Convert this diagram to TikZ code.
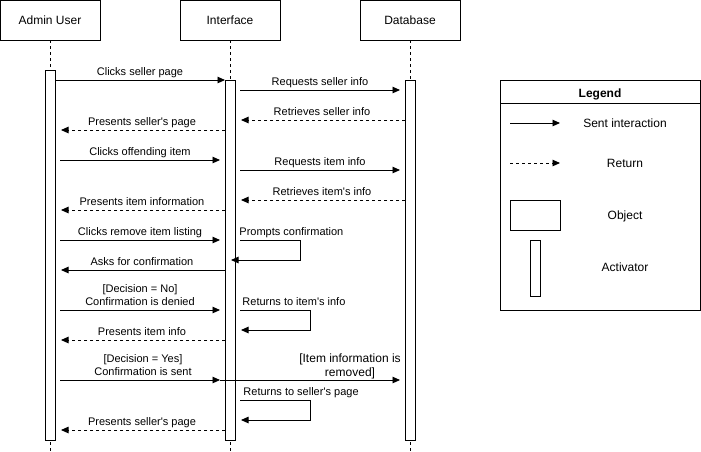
\documentclass[tikz,border=0pt]{standalone}
\usepackage{fontspec}
\setmainfont{Liberation Sans}
\usetikzlibrary{arrows.meta}
\newcommand\qs{\textquotesingle}
\tikzset{
  obj/.style={draw, minimum width=100pt, minimum height=40pt, inner sep=0pt},
  objt/.style={font=\fontsize{12}{14}\selectfont, inner sep=0pt, anchor=base},
  act/.style={draw, fill=white, minimum width=10pt, inner sep=0pt},
  life/.style={dash pattern=on 3pt off 3pt},
  msg/.style={line width=0.9pt, -{Triangle[length=7.5pt,width=6.5pt]}},
  ret/.style={msg, dash pattern=on 3pt off 3pt},
  lbl/.style={font=\fontsize{11}{13}\selectfont, inner sep=0pt, align=center, anchor=base},
  lblL/.style={lbl, anchor=base west},
  big/.style={font=\fontsize{12}{14}\selectfont, inner sep=0pt, align=center, anchor=base},
}
\begin{document}
\begin{tikzpicture}[x=1pt,y=-1pt, line width=0.9pt]
\useasboundingbox (0,0) rectangle (701,451);
% objects
\node[obj] (admin) at (50,20) {};
\node[obj] (iface) at (230,20) {};
\node[obj] (db) at (410,20) {};
\node[objt] (adminT) at (50,24.3) {Admin User};
\node[objt] (ifaceT) at (230,24.3) {Interface};
\node[objt] (dbT) at (410,24.3) {Database};
% lifelines
\coordinate (aEnd) at (50,451);
\coordinate (iEnd) at (230,451);
\coordinate (dEnd) at (410,451);
\draw[life] (admin.south) -- (aEnd);
\draw[life] (iface.south) -- (iEnd);
\draw[life] (db.south) -- (dEnd);
% activators
\node[act, minimum height=370pt] (actA) at (50,255) {};
\node[act, minimum height=360pt] (actI) at (230,260) {};
\node[act, minimum height=360pt] (actD) at (410,260) {};

% endpoints
\coordinate (m1s) at (55,80);   \coordinate (m1e) at (225,80);
\coordinate (m2s) at (240,90);  \coordinate (m2e) at (400,90);
\coordinate (m3s) at (405,120); \coordinate (m3e) at (241,120);
\coordinate (m4s) at (225,130); \coordinate (m4e) at (61,130);
\coordinate (m5s) at (60,160);  \coordinate (m5e) at (220,160);
\coordinate (m6s) at (240,170); \coordinate (m6e) at (400,170);
\coordinate (m7s) at (405,200); \coordinate (m7e) at (241,200);
\coordinate (m8s) at (225,210); \coordinate (m8e) at (61,210);
\coordinate (m9s) at (60,240);  \coordinate (m9e) at (220,240);
\coordinate (p1s) at (240,240); \coordinate (p1a) at (300,240);
\coordinate (p1b) at (300,260); \coordinate (p1e) at (231,260);
\coordinate (m10s) at (225,270); \coordinate (m10e) at (61,270);
\coordinate (m11s) at (60,310); \coordinate (m11e) at (220,310);
\coordinate (p2s) at (240,310); \coordinate (p2a) at (310,310);
\coordinate (p2b) at (310,330); \coordinate (p2e) at (241,330);
\coordinate (m12s) at (225,340); \coordinate (m12e) at (61,340);
\coordinate (m13s) at (60,380); \coordinate (m13e) at (220,380);
\coordinate (m14s) at (220,380); \coordinate (m14e) at (400,380);
\coordinate (p3s) at (240,400); \coordinate (p3a) at (310,400);
\coordinate (p3b) at (310,420); \coordinate (p3e) at (241,420);
\coordinate (m15s) at (225,430); \coordinate (m15e) at (61,430);

% messages
\draw[msg] (m1s) -- (m1e);
\node[lbl] (l1) at (140,75) {Clicks seller page};
\draw[msg] (m2s) -- (m2e);
\node[lbl] (l2) at (320,85) {Requests seller info};
\draw[ret] (m3s) -- (m3e);
\node[lbl] (l3) at (322,115) {Retrieves seller info};
\draw[ret] (m4s) -- (m4e);
\node[lbl] (l4) at (142,125) {Presents seller\qs s page};
\draw[msg] (m5s) -- (m5e);
\node[lbl] (l5) at (140,155) {Clicks offending item};
\draw[msg] (m6s) -- (m6e);
\node[lbl] (l6) at (320,165) {Requests item info};
\draw[ret] (m7s) -- (m7e);
\node[lbl] (l7) at (322,195) {Retrieves item\qs s info};
\draw[ret] (m8s) -- (m8e);
\node[lbl] (l8) at (142,205) {Presents item information};
\draw[msg] (m9s) -- (m9e);
\node[lbl] (l9) at (140,235) {Clicks remove item listing};
\draw[msg] (p1s) -- (p1a) -- (p1b) -- (p1e);
\node[lblL] (lp1) at (239,235) {Prompts confirmation};
\draw[msg] (m10s) -- (m10e);
\node[lbl] (l10) at (142,265) {Asks for confirmation};
\draw[msg] (m11s) -- (m11e);
\node[lbl] (l11a) at (140,292) {[Decision = No]};
\node[lbl] (l11) at (140,305) {Confirmation is denied};
\draw[msg] (p2s) -- (p2a) -- (p2b) -- (p2e);
\node[lblL] (lp2) at (242,305) {Returns to item\qs s info};
\draw[ret] (m12s) -- (m12e);
\node[lbl] (l12) at (142,335) {Presents item info};
\draw[msg] (m13s) -- (m13e);
\draw[msg] (m14s) -- (m14e);
\node[lbl] (l13a) at (143,362) {[Decision = Yes]};
\node[lbl] (l13) at (143,375) {Confirmation is sent};
\node[big] (l14a) at (350,362) {[Item information is};
\node[big] (l14) at (350,376) {removed]};
\draw[msg] (p3s) -- (p3a) -- (p3b) -- (p3e);
\node[lblL] (lp3) at (243,395) {Returns to seller\qs s page};
\draw[ret] (m15s) -- (m15e);
\node[lbl] (l15) at (142,425) {Presents seller\qs s page};

% legend
\node[draw, minimum width=200pt, minimum height=230pt, inner sep=0pt] (leg) at (600,195) {};
\coordinate (hL) at (500,103); \coordinate (hR) at (700,103);
\draw (hL) -- (hR);
\node[big, font=\fontsize{12}{14}\selectfont\bfseries] (legT) at (600,97) {Legend};
\coordinate (ls1) at (510,123); \coordinate (le1) at (560,123);
\draw[msg] (ls1) -- (le1);
\node[big] (lt1) at (625,127.3) {Sent interaction};
\coordinate (ls2) at (510,163); \coordinate (le2) at (560,163);
\draw[ret] (ls2) -- (le2);
\node[big] (lt2) at (625,167.3) {Return};
\node[draw, minimum width=50pt, minimum height=30pt, inner sep=0pt] (lobj) at (535,215) {};
\node[big] (lt3) at (625,219.3) {Object};
\node[draw, minimum width=10pt, minimum height=56pt, inner sep=0pt] (lact) at (535,268) {};
\node[big] (lt4) at (625,271.3) {Activator};
\end{tikzpicture}
\end{document}
